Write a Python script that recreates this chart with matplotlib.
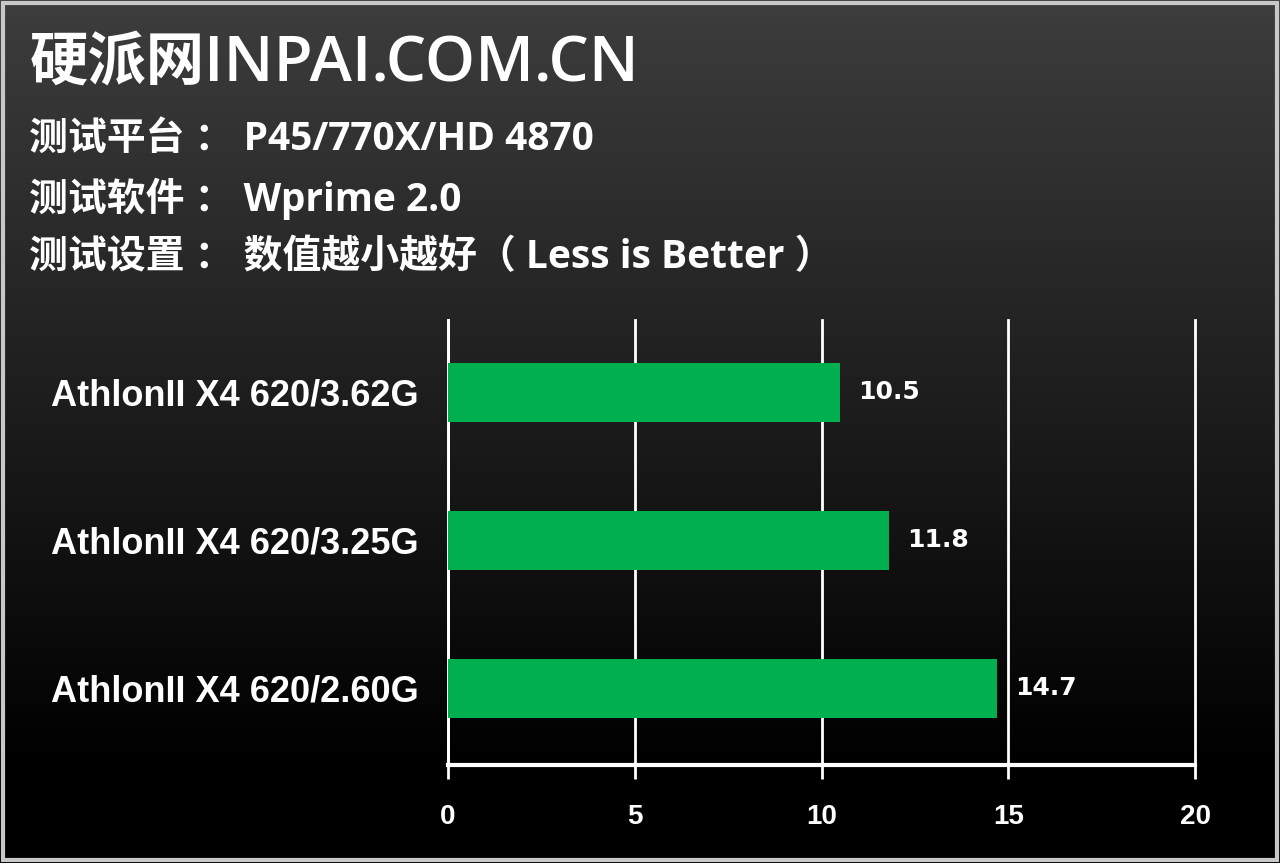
import numpy as np
import matplotlib
matplotlib.use('Agg')
import matplotlib.pyplot as plt

# data
labels = ['AthlonII X4 620/3.62G', 'AthlonII X4 620/3.25G', 'AthlonII X4 620/2.60G']
values = [10.5, 11.8, 14.7]
xticks = [0, 5, 10, 15, 20]
title_cn = '硬派网'
title_en = 'INPAI.COM.CN'
lines = ['测试平台 ： P45/770X/HD 4870',
         '测试软件 ： Wprime 2.0',
         '测试设置 ： 数值越小越好（ Less is Better ）']

fam = ['Liberation Sans', 'Noto Sans CJK SC', 'DejaVu Sans']
head = ['Open Sans', 'Noto Sans CJK SC', 'DejaVu Sans']
green = '#00b050'

fig = plt.figure(figsize=(12.8, 8.63), dpi=100)

# background gradient (dark grey top -> black bottom)
bg = fig.add_axes([0, 0, 1, 1])
g = np.clip(np.linspace(0.24, -0.03, 256), 0, None)
img = np.dstack([g, g, g])[0][:, None, :].repeat(2, axis=1)
bg.imshow(img, aspect='auto', extent=[0, 1, 0, 1], origin='upper')
bg.set_xlim(0, 1)
bg.set_ylim(0, 1)
bg.axis('off')
bg.add_patch(plt.Rectangle((0.002, 0.003), 0.996, 0.994, fill=False,
                           edgecolor='#c8c8c8', lw=3, transform=bg.transAxes))

fig.text(0.023, 0.925, title_cn, color='white', fontsize=42, family=head,
         fontweight='bold', va='center', ha='left')
fig.text(0.159, 0.925, title_en, color='white', fontsize=46, family=head,
         fontweight='semibold', va='center', ha='left')
for i, s in enumerate(lines):
    fig.text(0.023, 0.838 - i * 0.068, s, color='white', fontsize=28,
             family=head, fontweight='bold', va='center', ha='left')

ax = fig.add_axes([0.35, 0.1136, 0.5836, 0.5156])
ax.set_facecolor('none')
y = np.arange(len(labels))
ax.barh(y, values, height=0.4, color=green, zorder=3)
for yi, v in zip(y, values):
    ax.text(v + 0.48, yi, str(v), color='white', fontsize=18, fontweight='bold',
            family='DejaVu Sans', va='center', ha='left')
ax.set_xlim(0, 20)
ax.set_ylim(2.52, -0.49)
ax.set_xticks(xticks)
ax.set_yticks(y)
ax.set_yticklabels(labels, color='white', fontsize=26, fontweight='bold', family=fam)
ax.set_xticklabels([str(t) for t in xticks], color='white', fontsize=20,
                   fontweight='bold', family=fam)
ax.tick_params(axis='y', length=0, pad=21)
ax.tick_params(axis='x', length=10, width=2, color='white', pad=18, direction='out')
ax.grid(axis='x', color='white', lw=2, zorder=1)
for gl in ax.get_xgridlines():
    gl.set_clip_on(False)
for sp in ['top', 'right']:
    ax.spines[sp].set_visible(False)
ax.spines['left'].set_color('white')
ax.spines['left'].set_linewidth(2)
ax.spines['bottom'].set_color('white')
ax.spines['bottom'].set_linewidth(3)

fig.savefig('out.png', dpi=100, facecolor='black')
